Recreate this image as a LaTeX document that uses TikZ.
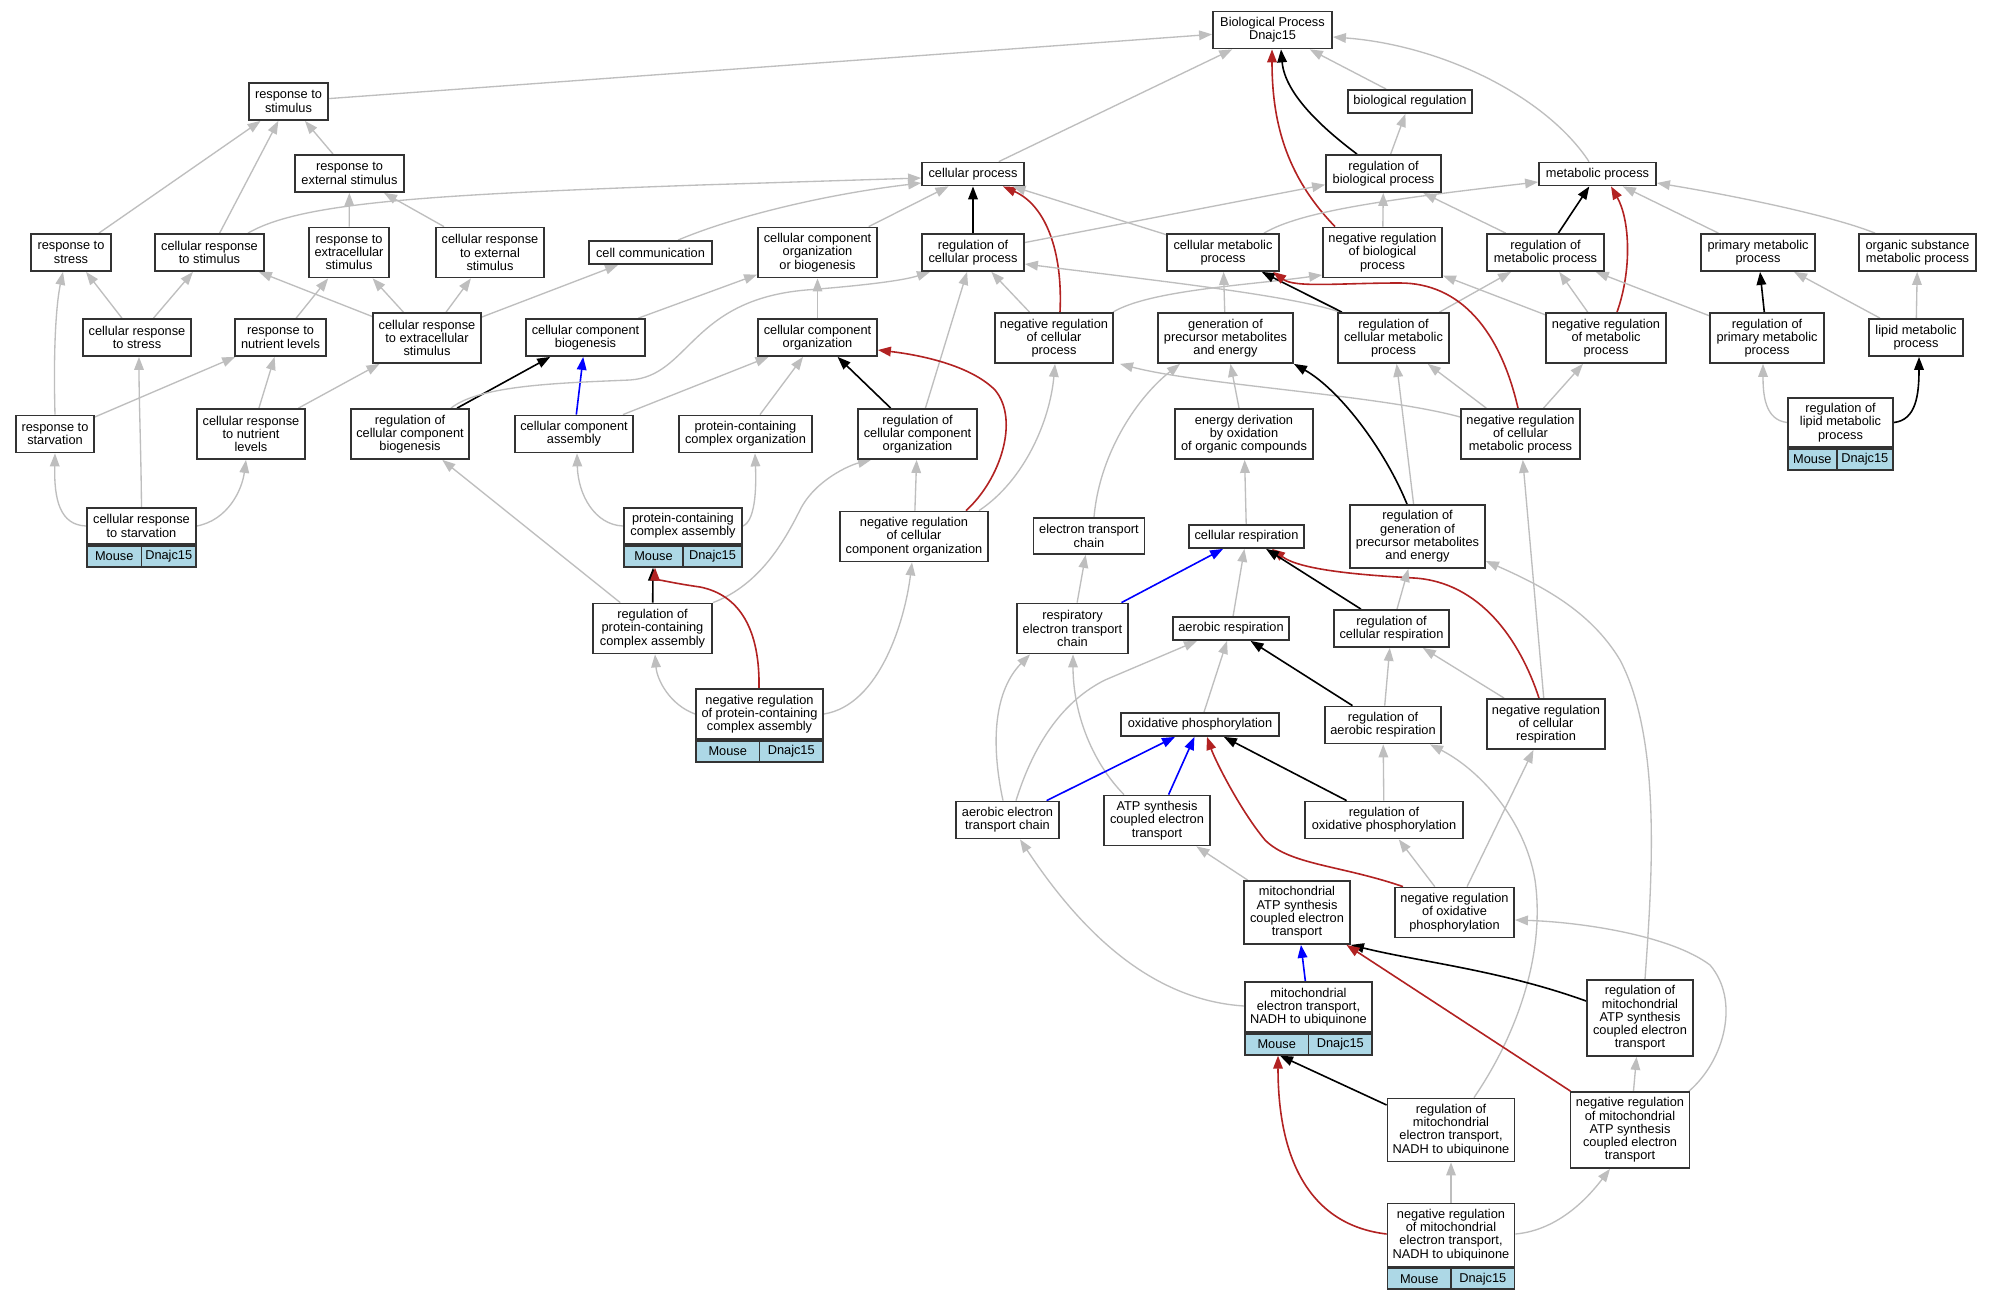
\documentclass[tikz,border=0pt]{standalone}
\usepackage{fontspec}
\setmainfont{Liberation Sans}
\usetikzlibrary{arrows.meta,backgrounds}
\definecolor{edgegray}{HTML}{BEBEBE}
\definecolor{fbrick}{HTML}{B22222}
\definecolor{lblue}{HTML}{ADD8E6}
\definecolor{bord}{HTML}{333333}
\tikzset{
  gobox/.style={draw=bord, line width=1.35pt, fill=white, align=center, inner sep=1pt,
    font=\fontsize{9.6pt}{9.94pt}\selectfont},
  bw/.style={minimum width=#1*0.75pt},
  bh/.style={minimum height=#1*0.75pt},
  cell/.style={gobox, fill=lblue, minimum height=21*0.75pt},
  tipx/.style={-{Triangle[length=9.75pt,width=7.2pt]}},
  ga/.style={draw=edgegray, line width=1pt, tipx},
  ka/.style={draw=black, line width=1.2pt, tipx},
  ra/.style={draw=fbrick, line width=1.2pt, tipx},
  ba/.style={draw=blue, line width=1.2pt, tipx},
}
\begin{document}
\begin{tikzpicture}[x=0.75pt,y=-0.75pt]
\useasboundingbox (0,0) rectangle (1991,1299);
% nodes
\node[gobox,bw=119,bh=37] (BP) at (1272.5,30) {Biological Process\\Dnajc15};
\node[gobox,bw=79,bh=37] (rstim) at (288.5,101.5) {response to\\stimulus};
\node[gobox,bw=124,bh=23] (bioreg) at (1410,101.5) {biological regulation};
\node[gobox,bw=109,bh=37] (rext) at (349.5,173.5) {response to\\external stimulus};
\node[gobox,bw=102,bh=23] (cellproc) at (973,174) {cellular process};
\node[gobox,bw=115,bh=37] (regbio) at (1383.5,173.5) {regulation of\\biological process};
\node[gobox,bw=117,bh=23] (metab) at (1597.5,174) {metabolic process};
\node[gobox,bw=80,bh=37] (rstress) at (71,252.5) {response to\\stress};
\node[gobox,bw=109,bh=37] (crstim) at (209.5,252.5) {cellular response\\to stimulus};
\node[gobox,bw=80,bh=50] (rextra) at (349,252.5) {response to\\extracellular\\stimulus};
\node[gobox,bw=108,bh=50] (crext) at (490,252.5) {cellular response\\to external\\stimulus};
\node[gobox,bw=123,bh=23] (cellcomm) at (650.5,252.5) {cell communication};
\node[gobox,bw=119,bh=50] (ccob) at (817.5,252.5) {cellular component\\organization\\or biogenesis};
\node[gobox,bw=102,bh=37] (regcp) at (973,252.5) {regulation of\\cellular process};
\node[gobox,bw=112,bh=37] (cmp) at (1223,252.5) {cellular metabolic\\process};
\node[gobox,bw=119,bh=50] (negbio) at (1382.5,252.5) {negative regulation\\of biological\\process};
\node[gobox,bw=117,bh=37] (regmet) at (1545.5,252.5) {regulation of\\metabolic process};
\node[gobox,bw=114,bh=37] (primet) at (1758,252.5) {primary metabolic\\process};
\node[gobox,bw=117,bh=37] (orgsub) at (1917.5,252.5) {organic substance\\metabolic process};
\node[gobox,bw=108,bh=37] (crstress) at (137,337.5) {cellular response\\to stress};
\node[gobox,bw=91,bh=37] (rnutr) at (280.5,337.5) {response to\\nutrient levels};
\node[gobox,bw=108,bh=50] (crextra) at (427,338) {cellular response\\to extracellular\\stimulus};
\node[gobox,bw=119,bh=37] (ccbio) at (585.5,337.5) {cellular component\\biogenesis};
\node[gobox,bw=119,bh=37] (ccorg) at (817.5,337.5) {cellular component\\organization};
\node[gobox,bw=118,bh=50] (negcp) at (1054,338) {negative regulation\\of cellular\\process};
\node[gobox,bw=135,bh=50] (genprec) at (1225.5,338) {generation of\\precursor metabolites\\and energy};
\node[gobox,bw=111,bh=50] (regcmp) at (1393.5,338) {regulation of\\cellular metabolic\\process};
\node[gobox,bw=120,bh=50] (negmet) at (1606,338) {negative regulation\\of metabolic\\process};
\node[gobox,bw=114,bh=50] (regprim) at (1767,338) {regulation of\\primary metabolic\\process};
\node[gobox,bw=94,bh=37] (lipid) at (1916,337.5) {lipid metabolic\\process};
\node[gobox,bw=78,bh=37] (rstarv) at (55,434) {response to\\starvation};
\node[gobox,bw=108,bh=50] (crnutr) at (251,434) {cellular response\\to nutrient\\levels};
\node[gobox,bw=118,bh=50] (regccb) at (410,434) {regulation of\\cellular component\\biogenesis};
\node[gobox,bw=118,bh=37] (ccasm) at (574,434) {cellular component\\assembly};
\node[gobox,bw=133,bh=37] (pcorg) at (745.5,434) {protein-containing\\complex organization};
\node[gobox,bw=119,bh=50] (regcco) at (917.5,434) {regulation of\\cellular component\\organization};
\node[gobox,bw=138,bh=50] (energy) at (1244,434) {energy derivation\\by oxidation\\of organic compounds};
\node[gobox,bw=119,bh=50] (negcmp) at (1520.5,434) {negative regulation\\of cellular\\metabolic process};
\node[gobox,bw=105,bh=49] (reglipid) at (1840.5,422.5) {regulation of\\lipid metabolic\\process};
\node[cell,bw=48.6,anchor=north west] (reglipidM) at (reglipid.south west) {Mouse};
\node[cell,bw=56.4,anchor=north east] (reglipidD) at (reglipid.south east) {Dnajc15};
\node[gobox,bw=109,bh=36] (crstarv) at (141.5,526) {cellular response\\to starvation};
\node[cell,bw=54.5,anchor=north west] (crstarvM) at (crstarv.south west) {Mouse};
\node[cell,bw=54.5,anchor=north east] (crstarvD) at (crstarv.south east) {Dnajc15};
\node[gobox,bw=118,bh=36] (pcasm) at (683,526) {protein-containing\\complex assembly};
\node[cell,bw=59,anchor=north west] (pcasmM) at (pcasm.south west) {Mouse};
\node[cell,bw=59,anchor=north east] (pcasmD) at (pcasm.south east) {Dnajc15};
\node[gobox,bw=148,bh=50] (negcco) at (914,536.5) {negative regulation\\of cellular\\component organization};
\node[gobox,bw=111,bh=36] (etc) at (1089,536) {electron transport\\chain};
\node[gobox,bw=115,bh=23] (cresp) at (1246.5,536.5) {cellular respiration};
\node[gobox,bw=135,bh=63] (reggen) at (1417.5,536.5) {regulation of\\generation of\\precursor metabolites\\and energy};
\node[gobox,bw=119,bh=50] (regpca) at (652.5,628.5) {regulation of\\protein-containing\\complex assembly};
\node[gobox,bw=111,bh=50] (retc) at (1072.5,628.5) {respiratory\\electron transport\\chain};
\node[gobox,bw=116,bh=23] (aresp) at (1231,628.5) {aerobic respiration};
\node[gobox,bw=115,bh=37] (regcresp) at (1391.5,628.5) {regulation of\\cellular respiration};
\node[gobox,bw=127,bh=50] (negpca) at (759.5,714) {negative regulation\\of protein-containing\\complex assembly};
\node[cell,bw=63.5,anchor=north west] (negpcaM) at (negpca.south west) {Mouse};
\node[cell,bw=63.5,anchor=north east] (negpcaD) at (negpca.south east) {Dnajc15};
\node[gobox,bw=158,bh=23] (oxphos) at (1200,724.5) {oxidative phosphorylation};
\node[gobox,bw=116,bh=37] (regaresp) at (1383,725) {regulation of\\aerobic respiration};
\node[gobox,bw=118,bh=50] (negcresp) at (1546,724) {negative regulation\\of cellular\\respiration};
\node[gobox,bw=103,bh=37] (aetc) at (1007.5,820) {aerobic electron\\transport chain};
\node[gobox,bw=106,bh=50] (atpset) at (1157,820.5) {ATP synthesis\\coupled electron\\transport};
\node[gobox,bw=158,bh=37] (regox) at (1384,820) {regulation of\\oxidative phosphorylation};
\node[gobox,bw=106,bh=63] (mitoatp) at (1297,912.5) {mitochondrial\\ATP synthesis\\coupled electron\\transport};
\node[gobox,bw=119,bh=50] (negox) at (1454.5,912.5) {negative regulation\\of oxidative\\phosphorylation};
\node[gobox,bw=127,bh=50] (mitoet) at (1308.5,1007) {mitochondrial\\electron transport,\\NADH to ubiquinone};
\node[cell,bw=63.5,anchor=north west] (mitoetM) at (mitoet.south west) {Mouse};
\node[cell,bw=63.5,anchor=north east] (mitoetD) at (mitoet.south east) {Dnajc15};
\node[gobox,bw=106,bh=76] (regmitoatp) at (1640,1018) {regulation of\\mitochondrial\\ATP synthesis\\coupled electron\\transport};
\node[gobox,bw=127,bh=63] (regmitoet) at (1451,1130) {regulation of\\mitochondrial\\electron transport,\\NADH to ubiquinone};
\node[gobox,bw=119,bh=76] (negmitoatp) at (1630,1130) {negative regulation\\of mitochondrial\\ATP synthesis\\coupled electron\\transport};
\node[gobox,bw=127,bh=63] (negmitoet) at (1451,1235) {negative regulation\\of mitochondrial\\electron transport,\\NADH to ubiquinone};
\node[cell,bw=63.5,anchor=north west] (negmitoetM) at (negmitoet.south west) {Mouse};
\node[cell,bw=63.5,anchor=north east] (negmitoetD) at (negmitoet.south east) {Dnajc15};
% edges
\begin{scope}[on background layer]
\fill[white] (0,0) rectangle (1991,1299);
\draw[ga] (rstim) -- (BP);
\draw[ga] (cellproc) -- (BP);
\draw[ka] (regbio.north -| 1357,0) .. controls (1325,130) and (1285,95) .. (BP.south -| 1281,0);
\draw[ra] (negbio.north -| 1335,0) .. controls (1285,175) and (1272,120) .. (BP.south -| 1272,0);
\draw[ga] (bioreg) -- (BP);
\draw[ga] (metab.north -| 1589,0) .. controls (1545,95) and (1440,45) .. (BP.east |- 0,37);
\draw[ga] (rext) -- (rstim);
\draw[ga] (rstress) -- (rstim);
\draw[ga] (crstim) -- (rstim);
\draw[ga] (crstim.north -| 248,0) .. controls (300,203) and (420,195) .. (700,185) -- (cellproc.west |- 0,178);
\draw[ga] (rextra) -- (rext);
\draw[ga] (crext) -- (rext);
\draw[ga] (crstress) -- (rstress);
\draw[ga] (crstress) -- (crstim);
\draw[ga] (crextra) -- (crstim);
\draw[ga] (crextra) -- (rextra);
\draw[ga] (crextra) -- (crext);
\draw[ga] (crextra) -- (cellcomm);
\draw[ga] (cellcomm.north -| 678,0) .. controls (730,218) and (820,195) .. (cellproc.west |- 0,183);
\draw[ga] (rnutr) -- (rextra);
\draw[ga] (rstarv.north) .. controls (53,340) and (57,300) .. (rstress.south -| 63,0);
\draw[ga] (rstarv) -- (rnutr);
\draw[ga] (crnutr) -- (rnutr);
\draw[ga] (crnutr) -- (crextra);
\draw[ga] (crstarv.west) .. controls (60,525) and (54,500) .. (rstarv.south);
\draw[ga] (crstarv.north) .. controls (141,450) and (139,400) .. (crstress.south -| 139,0);
\draw[ga] (crstarv.east) .. controls (228,520) and (242,490) .. (crnutr.south -| 246,0);
\draw[ka] (regccb) -- (ccbio);
\draw[ba] (ccasm) -- (ccbio);
\draw[ga] (ccbio) -- (ccob);
\draw[ga] (ccasm) -- (ccorg);
\draw[ga] (regccb.north -| 451,0) .. controls (480,385) and (560,383) .. (630,380) .. controls (690,376) and (690,300) .. (806,290) .. controls (870,285) and (905,280) .. (regcp.south -| 930,0);
\draw[ga] (ccorg) -- (ccob);
\draw[ga] (ccob) -- (cellproc);
\draw[ka] (regcp) -- (cellproc);
\draw[ra] (negcp.north -| 1060,0) .. controls (1063,250) and (1045,205) .. (cellproc.south -| 1003,0);
\draw[ga] (negcp) -- (regcp);
\draw[ga] (cmp) -- (cellproc);
\draw[ga] (regcp) -- (regbio);
\draw[ga] (regcmp.north -| 1340,0) .. controls (1290,295) and (1150,280) .. (regcp.east |- 0,264);
\draw[ga] (negcp.north -| 1113,0) .. controls (1150,290) and (1250,285) .. (negbio.west |- 0,275);
\draw[ga] (cmp.north -| 1264,0) .. controls (1300,212) and (1380,200) .. (metab.west |- 0,182);
\draw[ga] (negbio) -- (regbio);
\draw[ga] (regbio) -- (bioreg);
\draw[ga] (regmet) -- (regbio);
\draw[ka] (regmet) -- (metab);
\draw[ra] (negmet.north -| 1617,0) .. controls (1632,270) and (1630,220) .. (metab.south -| 1611,0);
\draw[ga] (negmet) -- (regmet);
\draw[ga] (negmet) -- (negbio);
\draw[ga] (primet) -- (metab);
\draw[ga] (orgsub.north -| 1875,0) .. controls (1830,215) and (1730,195) .. (metab.east |- 0,183);
\draw[ga] (regprim) -- (regmet);
\draw[ka] (regprim) -- (primet);
\draw[ga] (lipid) -- (primet);
\draw[ga] (lipid) -- (orgsub);
\draw[ga] (reglipid.west) .. controls (1765,420) and (1763,395) .. (regprim.south -| 1763,0);
\draw[ka] (reglipid.east) .. controls (1916,420) and (1919,395) .. (lipid.south -| 1919,0);
\draw[ka] (regcmp) -- (cmp);
\draw[ga] (regcmp) -- (regmet);
\draw[ra] (negcmp.north -| 1518,0) .. controls (1500,330) and (1460,283) .. (1400,283) .. controls (1340,283) and (1295,288) .. (cmp.south -| 1273,0);
\draw[ga] (negcmp) -- (regcmp);
\draw[ga] (negcmp) -- (negmet);
\draw[ga] (negcmp.west |- 0,417) .. controls (1380,395) and (1200,385) .. (negcp.south -| 1120,0);
\draw[ga] (genprec) -- (cmp);
\draw[ka] (reggen.north -| 1407,0) .. controls (1385,450) and (1340,390) .. (genprec.south east);
\draw[ga] (reggen) -- (regcmp);
\draw[ga] (energy) -- (genprec);
\draw[ga] (etc.north -| 1094,0) .. controls (1100,450) and (1140,395) .. (genprec.south -| 1180,0);
\draw[ga] (cresp) -- (energy);
\draw[ga] (regmitoatp.north -| 1645,0) .. controls (1652,880) and (1662,740) .. (1620,660) .. controls (1590,610) and (1540,585) .. (reggen.east |- 0,561);
\draw[ga] (negcresp) -- (negcmp);
\draw[ra] (negcresp.north -| 1539,0) .. controls (1520,640) and (1480,582) .. (1414,578) .. controls (1360,575) and (1300,570) .. (cresp.south -| 1272,0);
\draw[ga] (negcresp) -- (regcresp);
\draw[ka] (regcresp) -- (cresp);
\draw[ga] (regcresp) -- (reggen);
\draw[ba] (retc) -- (cresp);
\draw[ga] (retc) -- (etc);
\draw[ga] (aresp) -- (cresp);
\draw[ka] (regaresp) -- (aresp);
\draw[ga] (regaresp) -- (regcresp);
\draw[ga] (oxphos) -- (aresp);
\draw[ga] (aetc.north -| 1016,0) .. controls (1035,740) and (1065,700) .. (1105,680) -- (aresp.south -| 1197,0);
\draw[ga] (aetc.north -| 1003,0) .. controls (990,740) and (995,690) .. (retc.south -| 1030,0);
\draw[ga] (atpset.north -| 1124,0) .. controls (1090,760) and (1073,710) .. (retc.south -| 1073,0);
\draw[ba] (aetc) -- (oxphos);
\draw[ba] (atpset) -- (oxphos);
\draw[ra] (negox.north -| 1403,0) .. controls (1340,865) and (1290,865) .. (1265,840) .. controls (1240,810) and (1215,760) .. (oxphos.south -| 1207,0);
\draw[ka] (regox) -- (oxphos);
\draw[ga] (regox) -- (regaresp);
\draw[ga] (negox) -- (regox);
\draw[ga] (negox) -- (negcresp);
\draw[ga] (mitoatp) -- (atpset);
\draw[ga] (regmitoet.north -| 1474,0) .. controls (1520,1030) and (1545,950) .. (1535,880) .. controls (1525,820) and (1480,770) .. (regaresp.south -| 1430,0);
\draw[ka] (regmitoatp.west |- 0,1001) .. controls (1500,970) and (1420,962) .. (mitoatp.south east);
\draw[ra] (negmitoatp) -- (mitoatp);
\draw[ga] (negmitoatp) -- (regmitoatp);
\draw[ga] (negmitoatp.north -| 1689,0) .. controls (1725,1060) and (1740,1000) .. (1710,965) .. controls (1670,935) and (1580,922) .. (negox.east |- 0,920);
\draw[ba] (mitoet) -- (mitoatp);
\draw[ga] (mitoet.west |- 0,1006) .. controls (1150,1000) and (1080,930) .. (aetc.south -| 1020,0);
\draw[ka] (regmitoet.west |- 0,1105) -- (mitoetM.south -| 1280,0);
\draw[ra] (negmitoet.west |- 0,1234) .. controls (1310,1225) and (1278,1160) .. (mitoetM.south -| 1278,0);
\draw[ga] (negmitoet) -- (regmitoet);
\draw[ga] (negmitoet.east |- 0,1234) .. controls (1560,1230) and (1590,1195) .. (negmitoatp.south -| 1610,0);
\draw[ga] (pcasm.west) .. controls (595,525) and (578,495) .. (ccasm.south -| 577,0);
\draw[ga] (pcasm.east) .. controls (757,520) and (756,480) .. (pcorg.south -| 755,0);
\draw[ga] (pcorg) -- (ccorg);
\draw[ka] (regcco) -- (ccorg);
\draw[ga] (regcco) -- (regcp);
\draw[ra] (negcco.north -| 966,0) .. controls (1000,480) and (1020,420) .. (995,390) .. controls (970,365) and (920,355) .. (ccorg.east |- 0,350);
\draw[ga] (negcco) -- (regcco);
\draw[ga] (negcco.north -| 979,0) .. controls (1025,480) and (1050,420) .. (negcp.south -| 1055,0);
\draw[ka] (regpca) -- (pcasmM.south -| 653,0);
\draw[ga] (regpca) -- (regccb);
\draw[ga] (regpca.north east) .. controls (760,585) and (785,540) .. (800,510) .. controls (815,480) and (850,465) .. (regcco.south -| 871,0);
\draw[ra] (negpca.north -| 759,0) .. controls (760,630) and (740,595) .. (700,587) .. controls (665,582) and (655,578) .. (pcasmM.south -| 655,0);
\draw[ga] (negpca.west) .. controls (670,705) and (657,680) .. (regpca.south -| 655,0);
\draw[ga] (negpca.east) .. controls (880,705) and (905,620) .. (negcco.south -| 912,0);
\end{scope}
\end{tikzpicture}
\end{document}
